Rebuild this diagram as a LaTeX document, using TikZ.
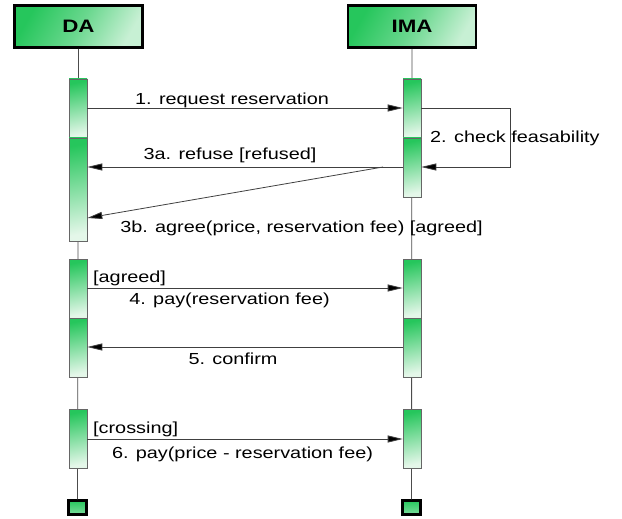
\documentclass[tikz,border=0pt]{standalone}
\usepackage{fontspec}
\setmainfont{Liberation Sans}[FakeStretch=1.24]
\usetikzlibrary{arrows.meta}
\definecolor{gA}{RGB}{38,198,92}
\definecolor{gB}{RGB}{228,247,233}
\begin{document}
\begin{tikzpicture}[x=1pt,y=-1pt,
  hdr/.style={draw=black, line width=2.6pt, minimum width=128pt, minimum height=42pt, inner sep=0pt,
    top color=gA, bottom color=gB!85!gA, middle color=gA!65!gB, shading angle=60, font=\fontsize{18}{21}\selectfont\bfseries},
  bar/.style={draw=black!60, line width=0.6pt, minimum width=18pt, inner sep=0pt,
    top color=gA, bottom color=gB, middle color=gA!50!gB, shading angle=12},
  life/.style={draw=black!70, line width=0.8pt},
  msg/.style={draw=black!75, line width=0.8pt, -{Triangle[length=15pt,width=7pt,fill=black]}},
  lbl/.style={font=\fontsize{16}{19}\selectfont, anchor=base, inner sep=0pt},
  endbox/.style={draw=black, line width=2.2pt, minimum width=18pt, minimum height=14pt, inner sep=0pt,
    top color=gA, bottom color=gA!60!white}]
\useasboundingbox (0,0) rectangle (622,519);
% headers
\node[hdr] (da) at (78.5,26.5) {DA};
\node[hdr] (ima) at (412,26.5) {IMA};
% end boxes
\node[endbox] (dend) at (77.5,507.5) {};
\node[endbox] (iend) at (411.5,507.5) {};
% lifelines
\draw[life] (da.south) -- (dend.north);
\draw[life] (ima.south) -- (iend.north);
% activation bars
\node[bar, minimum height=59pt] (d1) at (78,108.5) {};
\node[bar, minimum height=103pt] (d2) at (78,189.5) {};
\node[bar, minimum height=59pt] (d3) at (78,288.5) {};
\node[bar, minimum height=59pt] (d4) at (78,347.5) {};
\node[bar, minimum height=59pt] (d5) at (78,438.5) {};
\node[bar, minimum height=59pt] (i1) at (412,108.5) {};
\node[bar, minimum height=59pt] (i2) at (412,167.5) {};
\node[bar, minimum height=59pt] (i3) at (412,288.5) {};
\node[bar, minimum height=59pt] (i4) at (412,347.5) {};
\node[bar, minimum height=59pt] (i5) at (412,438.5) {};
% message levels
\coordinate (y1) at (0,108);
\coordinate (y3) at (0,167);
\coordinate (y3b) at (0,218);
\coordinate (y4) at (0,288);
\coordinate (y5) at (0,347);
\coordinate (y6) at (0,439);
\coordinate (loop) at (510,0);
\coordinate (s3b) at (383,167);
% messages
\draw[msg] (d1.east |- y1) -- (i1.west |- y1);
\draw[msg] (i1.east |- y1) -- (loop |- y1) -- (loop |- y3) -- (i2.east |- y3);
\draw[msg] (i2.west |- y3) -- (d2.east |- y3);
\draw[msg] (s3b) -- (d2.east |- y3b);
\draw[msg] (d3.east |- y4) -- (i3.west |- y4);
\draw[msg] (i4.west |- y5) -- (d4.east |- y5);
\draw[msg] (d5.east |- y6) -- (i5.west |- y6);
% labels
\node[lbl] (l1) at (232,104.5) {1. request reservation};
\node[lbl, anchor=base west] (l2) at (430,142.5) {2. check feasability};
\node[lbl] (l3a) at (230,160) {3a. refuse [refused]};
\node[lbl] (l3b) at (301.5,232.5) {3b. agree(price, reservation fee) [agreed]};
\node[lbl, anchor=base west] (lg4) at (93,282) {[agreed]};
\node[lbl] (l4) at (229.5,304) {4. pay(reservation fee)};
\node[lbl] (l5) at (233,364.5) {5. confirm};
\node[lbl, anchor=base west] (lg6) at (93,433) {[crossing]};
\node[lbl] (l6) at (242.5,458) {6. pay(price - reservation fee)};
\end{tikzpicture}
\end{document}
